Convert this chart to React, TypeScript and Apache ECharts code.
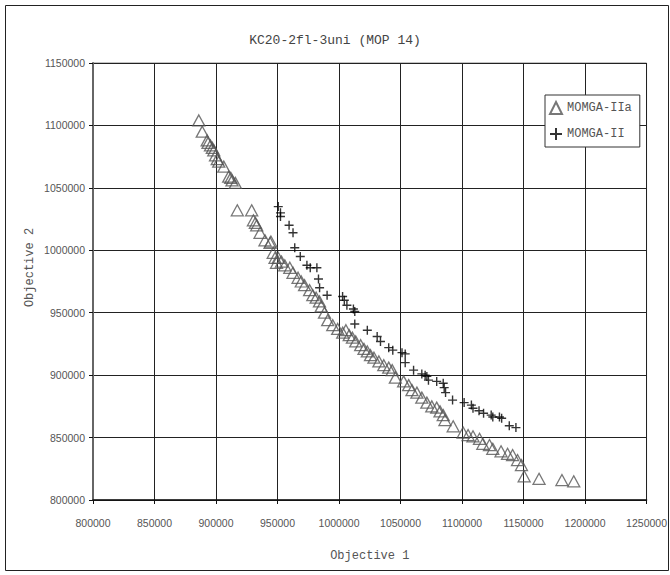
import React, { useEffect, useRef } from "react";
import * as echarts from "echarts";

const titleText = "KC20-2fl-3uni (MOP 14)";
const xName = "Objective 1";
const yName = "Objective 2";
const seriesNames = ["MOMGA-IIa", "MOMGA-II"];

const momgaIIa: [number, number][] = [
  [886000, 1104000], [888800, 1095000], [892800, 1088000], [893500, 1086000], [895500, 1084000],
  [897000, 1082000], [898200, 1080000], [899600, 1076000], [901000, 1073000], [902200, 1071000],
  [906300, 1067000], [910300, 1059000], [912000, 1058000], [913000, 1056000], [915700, 1054000],
  [917300, 1032000], [929000, 1032000], [930400, 1024000], [932000, 1022000], [933100, 1020000],
  [935800, 1014000], [939800, 1008000], [943900, 1006000], [944600, 1007000], [946500, 998000],
  [948000, 994000], [949200, 990000], [950600, 994000], [953200, 991000], [955900, 988000],
  [960000, 986000], [962600, 982000], [966700, 978000], [969300, 975000], [972000, 972000],
  [976100, 968000], [978700, 964000], [981400, 962000], [984100, 959000], [985500, 955000],
  [988200, 950000], [990800, 944000], [994900, 940000], [998900, 937000], [1003000, 934000],
  [1005600, 936000], [1008300, 932000], [1010900, 930000], [1013600, 927000], [1017600, 924000],
  [1020300, 921000], [1023000, 919000], [1025600, 916000], [1028400, 914000], [1032400, 911000],
  [1036400, 908000], [1040400, 906000], [1043200, 904000], [1045800, 898000], [1052500, 895000],
  [1056600, 892000], [1059300, 888000], [1063300, 886000], [1067300, 882000], [1071400, 878000],
  [1075400, 875000], [1079400, 874000], [1082100, 871000], [1084700, 868000], [1086100, 864000],
  [1092800, 859000], [1100900, 854000], [1104900, 852000], [1108900, 851000], [1114200, 849000],
  [1116900, 845000], [1122300, 844000], [1125000, 841000], [1131700, 839000], [1137000, 837000],
  [1141100, 836000], [1145100, 832000], [1148300, 828000], [1150500, 819000], [1162600, 817000],
  [1181200, 816000], [1190800, 815000],
];

const momgaII: [number, number][] = [
  [950600, 1035000], [952400, 1030000], [952400, 1027000], [959400, 1020000], [962600, 1014000],
  [964000, 1002000], [968500, 995000], [973900, 988000], [976600, 986000], [982000, 986000],
  [983300, 977000], [984200, 970000], [990300, 964000], [1002900, 963000], [1004300, 960000],
  [1006400, 956000], [1011700, 953000], [1012800, 951000], [1012800, 941000], [1023000, 936000],
  [1031000, 931000], [1033700, 927000], [1040400, 922000], [1043700, 920000], [1051200, 918000],
  [1053800, 917000], [1053800, 910000], [1060600, 904000], [1067300, 901000], [1070000, 900000],
  [1071400, 899000], [1072700, 896000], [1079400, 895000], [1084700, 893500], [1085500, 890000],
  [1086600, 886000], [1092300, 880000], [1101700, 878000], [1107600, 876000], [1108900, 873500],
  [1113800, 871500], [1117500, 869500], [1123700, 868000], [1125000, 866500], [1130400, 866500],
  [1132200, 865500], [1138400, 859500], [1143800, 858000],
];

const xMin = 800000;
const xMax = 1250000;
const yMin = 800000;
const yMax = 1150000;
const step = 50000;

const labelFont = "'Liberation Sans', Arial, sans-serif";
const monoFont = "'Liberation Mono', 'DejaVu Sans Mono', monospace";

export default function App() {
  const ref = useRef<HTMLDivElement>(null);
  useEffect(() => {
    if (!ref.current) return;
    const chart = echarts.init(ref.current, null, { renderer: "svg" });
    chart.setOption({
      animation: false,
      backgroundColor: "#fff",
      title: {
        text: titleText,
        left: "center",
        top: 29,
        textStyle: { fontFamily: monoFont, fontSize: 13, fontWeight: "normal", color: "#444" },
      },
      grid: {
        left: 93, top: 63, width: 559, height: 437,
        show: true, borderColor: "#888", borderWidth: 1, backgroundColor: "#fff",
      },
      legend: {
        orient: "vertical",
        left: 545,
        top: 95,
        padding: [6, 8, 6, 4],
        itemGap: 12,
        itemWidth: 12,
        itemHeight: 12,
        borderColor: "#333",
        borderWidth: 1,
        borderRadius: 0,
        backgroundColor: "#fff",
        textStyle: { fontFamily: monoFont, fontSize: 12, color: "#555" },
        data: seriesNames,
      },
      xAxis: {
        type: "value",
        min: xMin, max: xMax, interval: step,
        name: xName,
        nameLocation: "middle",
        nameGap: 50,
        nameMoveOverlap: false,
        nameTextStyle: { fontFamily: monoFont, fontSize: 12, color: "#555" },
        axisLine: { show: true, onZero: false, lineStyle: { color: "#111", width: 1.5 } },
        axisTick: { show: true, length: 4, lineStyle: { color: "#111" } },
        axisLabel: {
          margin: 17, fontFamily: labelFont, fontSize: 10.5, color: "#555",
          formatter: (v: number) => String(v),
        },
        splitLine: { show: true, lineStyle: { color: "#222", width: 1 } },
      },
      yAxis: {
        type: "value",
        min: yMin, max: yMax, interval: step,
        name: yName,
        nameLocation: "middle",
        nameGap: 57,
        nameMoveOverlap: false,
        nameTextStyle: { fontFamily: monoFont, fontSize: 12, color: "#555", padding: [0, 0, 0, 28] },
        axisLine: { show: true, onZero: false, lineStyle: { color: "#666", width: 2 } },
        axisTick: { show: true, length: 4, lineStyle: { color: "#111" } },
        axisLabel: {
          margin: 8, fontFamily: labelFont, fontSize: 10.5, color: "#555",
          formatter: (v: number) => String(v),
        },
        splitLine: { show: true, lineStyle: { color: "#222", width: 1 } },
      },
      series: [
        {
          name: seriesNames[0],
          type: "scatter",
          symbol: "triangle",
          symbolSize: [12, 11],
          itemStyle: { color: "rgba(255,255,255,0)", borderColor: "#555", borderWidth: 1.3 },
          data: momgaIIa,
          z: 2,
        },
        {
          name: seriesNames[1],
          type: "scatter",
          symbol: "path://M0,5L10,5M5,0L5,10",
          symbolSize: 9,
          itemStyle: { color: "rgba(255,255,255,0)", borderColor: "#000", borderWidth: 1.4 },
          data: momgaII,
          z: 3,
        },
      ],
      graphic: [
        {
          type: "rect",
          left: 3, top: 3,
          shape: { width: 663, height: 565 },
          style: { fill: "none", stroke: "#222", lineWidth: 1 },
          silent: true,
          z: -10,
        },
      ],
    });
    return () => chart.dispose();
  }, []);
  return (
    <div
      ref={ref}
      style={{ position: "fixed", left: 0, top: 0, width: 670, height: 575, background: "#fff" }}
    />
  );
}
